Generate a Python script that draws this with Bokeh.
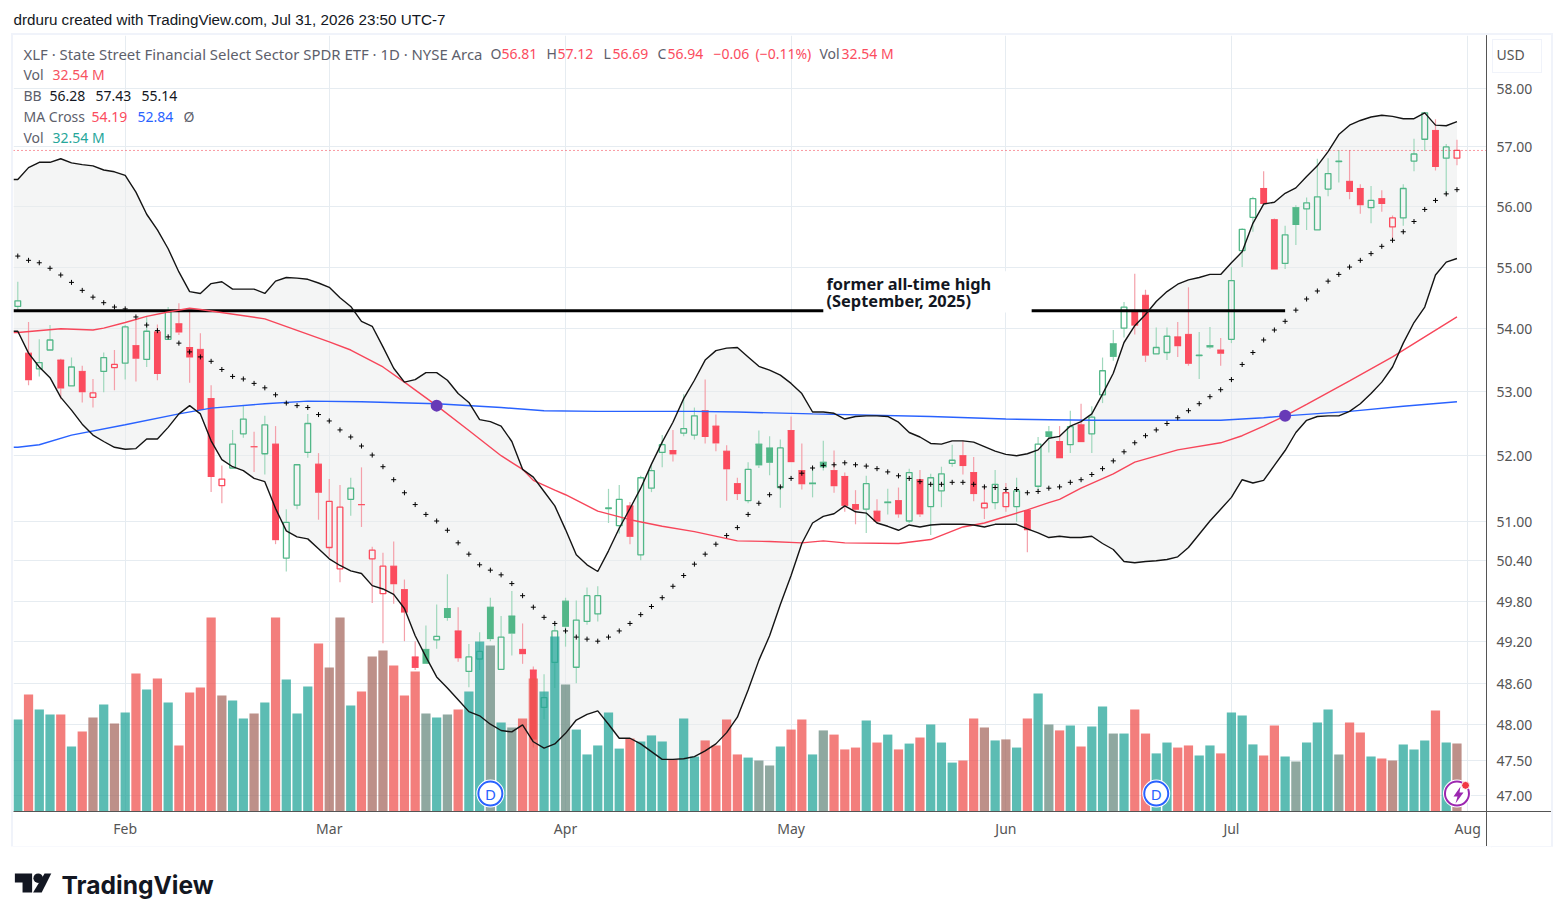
from bokeh.plotting import figure
from bokeh.embed import file_html
from bokeh.resources import INLINE
from bokeh.core.properties import value
from bokeh.layouts import column
from bokeh.models import (Range1d, LinearScale, FixedTicker, Label, PolyAnnotation)

opens = [54.36,53.61,53.36,53.66,53.50,53.09,53.32,52.91,53.32,53.38,
         53.45,53.73,53.51,53.95,53.83,54.08,53.70,53.67,52.89,51.54,
         51.81,52.34,52.14,52.03,52.18,50.44,51.24,52.05,51.87,50.60,
         50.28,51.33,51.25,50.43,49.91,50.32,49.97,48.98,49.09,49.23,
         49.69,49.36,48.77,48.95,49.71,48.80,49.58,49.09,48.79,48.25,
         48.90,49.80,48.83,49.50,49.61,51.19,50.93,51.23,50.49,51.50,
         52.05,52.08,52.35,52.32,52.70,52.46,52.07,51.57,51.31,52.18,
         52.12,51.51,52.39,51.77,51.58,51.90,51.77,51.68,51.25,51.18,
         51.15,51.29,51.31,51.00,51.63,51.22,51.46,51.88,52.00,51.74,
         51.20,51.28,51.22,51.22,51.16,51.53,52.37,52.22,52.17,52.48,
         52.34,52.95,53.76,54.01,54.29,54.54,53.60,53.62,53.87,53.91,
         53.57,53.73,53.66,53.83,55.27,55.82,56.30,55.78,55.06,55.98,
         55.96,55.61,56.29,56.75,56.42,56.30,55.98,56.13,55.66,55.81,
         56.76,57.13,57.28,56.81,56.81]
highs = [54.76,54.11,53.83,54.06,53.52,53.54,53.41,53.20,53.62,53.66,
         54.06,54.15,54.20,54.07,54.35,54.41,54.30,53.93,53.10,51.85,
         52.40,52.78,52.37,52.62,52.46,51.18,51.87,52.65,52.04,51.64,
         51.55,51.66,51.82,50.61,50.52,50.69,50.12,49.21,49.44,49.75,
         50.20,49.71,49.17,49.34,49.85,49.58,49.95,49.47,48.84,48.73,
         49.44,49.85,49.81,50.00,50.02,51.49,51.55,51.29,51.69,51.85,
         52.32,52.40,52.96,52.75,53.19,52.64,52.16,51.66,51.90,52.39,
         52.30,52.25,52.61,52.19,51.81,52.23,52.08,51.74,51.47,51.69,
         51.33,51.49,51.51,51.80,51.78,51.72,51.83,52.17,52.23,51.98,
         51.52,51.78,51.58,51.66,51.17,52.29,52.46,52.46,52.70,52.81,
         52.77,53.54,53.98,54.43,54.89,54.63,54.02,54.02,54.11,54.67,
         53.95,54.03,53.85,55.00,55.64,56.16,56.59,55.80,55.68,56.02,
         56.15,56.80,56.81,56.95,56.95,56.37,56.34,56.27,55.85,56.37,
         57.14,57.59,57.47,57.05,57.12]
lows = [54.29,53.10,53.24,53.66,52.88,53.09,52.83,52.75,52.99,53.02,
        53.19,53.16,53.39,53.18,53.83,53.90,53.14,52.71,51.44,51.27,
        51.81,52.28,51.75,51.71,50.65,50.24,51.18,51.97,51.02,50.46,
        50.08,51.08,50.91,49.77,49.18,49.76,49.21,48.79,48.88,49.10,
        49.51,48.91,48.54,48.79,49.21,48.80,49.00,48.88,47.68,48.08,
        48.53,49.13,48.60,49.45,49.50,50.97,50.81,50.65,50.41,51.44,
        51.82,51.91,52.30,52.25,52.19,52.07,51.31,51.32,51.27,51.81,
        51.70,51.20,51.90,51.48,51.36,51.77,51.43,51.14,50.95,50.82,
        50.97,51.10,51.05,50.97,51.06,50.79,51.21,51.83,51.71,51.30,
        51.03,51.18,51.14,50.99,50.53,51.47,52.05,51.96,52.04,52.21,
        52.04,52.82,53.49,53.86,53.91,53.47,53.60,53.50,53.55,53.41,
        53.20,53.68,53.41,53.77,55.00,55.58,56.04,54.96,54.97,55.36,
        55.61,55.61,56.17,56.40,56.12,55.88,55.72,55.91,55.45,55.68,
        56.59,56.93,56.60,56.20,56.69]
closes = [54.45,53.18,53.46,53.82,53.05,53.39,52.99,52.98,53.54,53.43,
          54.03,53.52,53.96,53.28,54.27,53.94,53.54,52.71,51.67,51.64,
          52.18,52.57,52.13,52.48,50.71,50.98,51.86,52.50,51.43,51.30,
          51.21,51.50,51.24,50.56,50.32,50.05,49.63,48.82,48.88,49.28,
          49.55,48.96,48.98,49.06,49.24,49.27,49.32,49.02,47.79,48.39,
          49.36,49.42,49.52,49.88,49.88,51.20,51.33,50.76,51.66,51.77,
          52.17,52.02,52.42,52.62,52.29,52.19,51.79,51.41,51.79,51.85,
          51.89,52.12,51.90,51.56,51.56,51.82,51.53,51.23,51.17,51.57,
          50.99,51.27,51.10,51.74,51.10,51.66,51.72,51.93,51.84,51.41,
          51.27,51.56,51.43,51.46,50.86,52.18,52.29,51.96,52.45,52.21,
          52.60,53.33,53.55,54.35,54.05,53.57,53.70,53.88,53.72,53.44,
          53.58,53.70,53.60,54.78,55.62,56.13,56.04,54.96,55.53,55.69,
          56.06,56.16,56.55,56.76,56.24,56.02,56.10,56.04,55.81,56.30,
          56.88,57.58,56.66,57.00,56.94]
candle_dirs = ("grggrgrrgr" "grgrgrrrrr" "ggrgrgggrr" "rgrrrrrrgg" "grgggggrrg"
               "gggggggrgg" "grggrrrrgg" "ggrrggrrrg" "rgrgrgggrr" "rgrgrggrgr"
               "ggggrrggrr" "ggrgggrrgg" "ggggrrgrrg" "ggrgr")
volumes = [44.0,56.0,48.8,46.4,46.4,31.1,38.3,45.0,51.2,42.1,
           47.4,66.0,58.4,63.6,52.2,31.6,56.9,59.3,92.8,55.5,
           53.1,44.5,46.9,52.2,92.8,63.2,46.9,59.8,80.4,68.9,
           92.8,50.7,57.4,74.2,77.0,69.9,55.5,67.0,46.9,45.0,
           46.4,48.8,57.4,81.3,79.4,42.6,40.2,44.5,63.6,57.4,
           83.7,60.8,39.2,27.3,31.6,47.4,30.1,34.9,33.5,36.4,
           33.5,24.9,44.5,26.3,34.0,31.6,44.0,27.3,25.8,24.4,
           22.0,31.1,39.2,44.0,27.3,38.8,36.8,29.7,30.6,43.5,
           33.0,36.8,29.7,32.5,35.4,41.6,33.0,23.4,24.4,44.5,
           40.2,34.0,34.5,30.6,44.5,56.5,41.6,38.8,41.2,31.1,
           40.7,50.2,37.3,37.3,48.8,37.3,27.8,33.0,30.6,31.6,
           26.8,31.6,27.8,47.4,45.9,32.1,26.8,41.2,26.3,23.9,
           33.0,42.6,48.8,27.3,42.6,37.8,26.3,25.4,24.4,32.1,
           29.7,34.0,48.3,33.0,32.54]
volume_kinds = ("TRTTRTRBTB" "TRTRTRRRRB" "TTBTRTTTRB" "BTRBBRRRGT" "GRTTGTGRRT"
                "TGTTTTTRTT" "TRTTRRRRTG" "GTRRTGRRRT" "RTRTRTTTRR" "BTBTRTGRTR"
                "TTGTRRTTRR" "TTRTTTRRTG" "TTTGRRTRBT" "TTRTB")
bb_basis = [55.18,55.11,55.07,54.98,54.87,54.75,54.62,54.51,54.42,54.35,
            54.32,54.19,54.06,53.97,53.87,53.77,53.63,53.55,53.48,53.35,
            53.24,53.20,53.13,53.06,52.95,52.82,52.78,52.75,52.64,52.54,
            52.40,52.29,52.15,52.01,51.83,51.63,51.43,51.25,51.10,51.00,
            50.86,50.67,50.50,50.34,50.26,50.19,50.06,49.88,49.71,49.56,
            49.47,49.36,49.27,49.24,49.21,49.27,49.36,49.47,49.60,49.72,
            49.85,50.02,50.18,50.35,50.50,50.65,50.78,50.90,51.10,51.27,
            51.40,51.52,51.65,51.73,51.81,51.85,51.86,51.89,51.86,51.84,
            51.80,51.75,51.69,51.65,51.60,51.56,51.56,51.59,51.59,51.56,
            51.52,51.51,51.48,51.48,51.43,51.45,51.50,51.52,51.59,51.63,
            51.71,51.80,51.92,52.06,52.20,52.31,52.40,52.50,52.59,52.70,
            52.81,52.92,53.03,53.19,53.43,53.62,53.82,53.98,54.12,54.30,
            54.48,54.61,54.77,54.88,55.00,55.11,55.22,55.34,55.44,55.58,
            55.75,55.95,56.10,56.21,56.28]
bb_upper = [56.45,56.65,56.74,56.74,56.80,56.73,56.70,56.68,56.61,56.58,
            56.52,56.24,55.87,55.61,55.30,54.92,54.60,54.57,54.73,54.76,
            54.64,54.64,54.64,54.57,54.77,54.83,54.82,54.80,54.74,54.67,
            54.50,54.36,54.12,54.04,53.71,53.37,53.15,53.19,53.30,53.30,
            53.18,52.97,52.83,52.56,52.53,52.46,52.22,51.79,51.67,51.45,
            51.23,50.87,50.49,50.34,50.24,50.55,50.89,51.19,51.50,51.87,
            52.21,52.52,52.89,53.18,53.50,53.65,53.69,53.70,53.55,53.40,
            53.34,53.26,53.13,52.97,52.68,52.68,52.66,52.57,52.61,52.62,
            52.62,52.61,52.52,52.36,52.29,52.19,52.18,52.23,52.23,52.21,
            52.14,52.07,52.02,52.00,52.03,52.09,52.27,52.30,52.46,52.53,
            52.65,52.96,53.29,53.78,54.05,54.23,54.44,54.60,54.72,54.79,
            54.83,54.88,54.88,55.07,55.25,55.72,56.04,56.07,56.22,56.31,
            56.50,56.68,56.92,57.21,57.37,57.45,57.51,57.54,57.52,57.48,
            57.48,57.58,57.37,57.36,57.43]
bb_lower = [53.96,53.61,53.39,53.22,52.91,52.71,52.49,52.32,52.22,52.13,
            52.10,52.11,52.26,52.26,52.44,52.65,52.78,52.65,52.23,51.94,
            51.83,51.77,51.65,51.60,51.19,50.85,50.76,50.73,50.58,50.43,
            50.33,50.25,50.21,50.03,49.98,49.90,49.69,49.29,48.98,48.69,
            48.53,48.36,48.19,48.13,48.01,47.92,47.90,48.00,47.76,47.67,
            47.73,47.88,48.07,48.15,48.20,48.01,47.81,47.81,47.73,47.62,
            47.51,47.51,47.52,47.55,47.63,47.73,47.89,48.11,48.50,48.93,
            49.29,49.75,50.18,50.66,50.97,51.07,51.11,51.23,51.14,51.12,
            50.97,50.92,50.86,50.94,50.91,50.94,50.95,50.95,50.95,50.94,
            50.91,50.95,50.95,50.95,50.88,50.82,50.75,50.77,50.75,50.75,
            50.77,50.66,50.57,50.39,50.37,50.39,50.40,50.42,50.46,50.60,
            50.80,51.00,51.18,51.36,51.63,51.58,51.62,51.85,52.08,52.36,
            52.55,52.61,52.62,52.62,52.69,52.81,52.97,53.15,53.39,53.77,
            54.10,54.35,54.87,55.08,55.14]
ma50_idx = [0,4,7,8,10,12,14,16,17,23,29,31,34,36,39,42,45,47,48,50,51,54,57,60,63,67,70,73,75,77,82,85,88,90,94,96,97,99,102,104,108,112,114,116,118,120,124,128,134]
ma50_val = [53.94,54.00,53.98,54.01,54.10,54.20,54.27,54.33,54.31,54.16,53.79,53.66,53.39,53.15,52.78,52.39,52.00,51.79,51.62,51.47,51.40,51.15,51.02,50.92,50.84,50.70,50.69,50.67,50.70,50.67,50.66,50.72,50.91,50.97,51.17,51.28,51.33,51.50,51.72,51.90,52.09,52.20,52.31,52.46,52.62,52.80,53.17,53.55,54.19]
ma200_idx = [0,2,5,10,15,18,23,27,32,39,45,49,54,63,67,74,85,92,96,100,112,116,118,124,129,134]
ma200_val = [52.13,52.17,52.32,52.48,52.65,52.74,52.81,52.85,52.84,52.81,52.75,52.70,52.69,52.69,52.68,52.65,52.61,52.57,52.56,52.55,52.55,52.59,52.62,52.69,52.77,52.84]
cross_idx = [39, 118]
cross_val = [52.78, 52.62]
dividend_idx = [44, 106]
former_high = 54.29
last_close = 56.94
month_idx = [10, 29, 51, 72, 92, 113, 135]
month_names = ["Feb", "Mar", "Apr", "May", "Jun", "Jul", "Aug"]
price_ticks = [47, 47.5, 48, 48.6, 49.2, 49.8, 50.4, 51, 52, 53, 54, 55, 56, 57, 58]

n = len(closes)
idx = list(range(n))

RED, GREEN = "#fb4c5e", "#52b788"
WICK_R, WICK_G = "#f4a0aa", "#a0d8bd"
GRID = "#e6ecf1"
GREY = "#5d606b"
INK = "#131722"
VOLC = {"T": "#26a69a", "R": "#ef5350", "B": "#a76b61", "G": "#6a8b80"}

X0 = -0.4
X1 = 136.75
USD_TICK = 58.59
OX, OY = 13, 35   # where the main figure starts on the page

header = figure(width=1556, height=35, output_backend="svg", toolbar_location=None, x_range=Range1d(0, 1556),
                y_range=Range1d(35, 0), x_axis_location=None, y_axis_location=None, min_border=0)
header.outline_line_color = None
header.grid.visible = False
header.add_layout(Label(x=13, y=19, x_units="canvas", y_units="canvas", text_baseline="middle",
                        text="drduru created with TradingView.com, Jul 31, 2026 23:50 UTC-7",
                        text_color=INK, text_font="Liberation Sans", text_font_size="15.2px"))

p = figure(width=1538, height=811, output_backend="svg", toolbar_location=None,
           x_range=Range1d(X0, X1), y_range=Range1d(46.78, 58.92), y_axis_type="log",
           y_axis_location="right", min_border_left=0, min_border_top=0,
           min_border_right=65, min_border_bottom=35, margin=(0, 0, 0, OX))
p.outline_line_color = None
p.border_fill_color = None
p.background_fill_color = "white"
# chrome that lies outside the plot frame: axis rules and the USD box, painted behind the canvas
rules = [("1px 811px", "1473px 0", "#555555"), ("65px 1px", "1473px 776px", "#555555"),
         ("50px 1px", "1479px 4px", "#f0f3fa"), ("50px 1px", "1479px 37px", "#f0f3fa"),
         ("1px 33px", "1479px 4px", "#f0f3fa"), ("1px 33px", "1528px 4px", "#f0f3fa")]
p.styles = {"outline": "2px solid #f0f3fa",
            "background-color": "white",
            "background-image": ",".join(f"linear-gradient({c},{c})" for _, _, c in rules),
            "background-size": ",".join(s for s, _, _ in rules),
            "background-position": ",".join(q for _, q, _ in rules),
            "background-repeat": "no-repeat"}
p.extra_y_ranges = {"vol": Range1d(0, 371.3)}
p.extra_y_scales = {"vol": LinearScale()}

ax = p.yaxis[0]
ax.ticker = FixedTicker(ticks=price_ticks + [USD_TICK])
ax.major_label_overrides = {**{t: f"{t:.2f}" for t in price_ticks}, USD_TICK: "USD"}
ax.major_tick_line_color = None
ax.major_tick_out = 0
ax.minor_tick_line_color = None
ax.major_label_standoff = 10
ax.major_label_text_font = "Noto Sans"
ax.major_label_text_font_size = "14px"
ax.major_label_text_color = "#555555"
ax.axis_line_color = "#555555"

bx = p.xaxis[0]
bx.ticker = FixedTicker(ticks=month_idx)
bx.major_label_overrides = dict(zip(month_idx, month_names))
bx.major_tick_line_color = None
bx.major_tick_out = 0
bx.minor_tick_line_color = None
bx.major_label_standoff = 7
bx.major_label_text_font = "Noto Sans"
bx.major_label_text_font_size = "14px"
bx.major_label_text_color = "#555555"
bx.axis_line_color = "#555555"

p.xgrid.ticker = FixedTicker(ticks=month_idx)
p.ygrid.ticker = FixedTicker(ticks=price_ticks)
for g in (p.xgrid[0], p.ygrid[0]):
    g.grid_line_color = GRID
    g.grid_line_width = 1

# the bands and averages run on past the left edge of the view
line_x = [X0] + idx

# Bollinger fill
p.varea(x=line_x, y1=bb_lower[:1] + bb_lower, y2=bb_upper[:1] + bb_upper, fill_color="#e9eceb", fill_alpha=0.5)

# candles
cdir = [candle_dirs[i] for i in idx]
top = [max(opens[i], closes[i]) for i in idx]
bot = [min(opens[i], closes[i]) for i in idx]
p.segment(x0=idx, x1=idx, y0=highs, y1=top,
          line_color=[WICK_G if d == "g" else WICK_R for d in cdir], line_width=1.2)
p.segment(x0=idx, x1=idx, y0=bot, y1=lows,
          line_color=[WICK_G if d == "g" else WICK_R for d in cdir], line_width=1.2)
hollow = [i for i in idx if closes[i] > opens[i]]
solid = [i for i in idx if closes[i] <= opens[i]]
p.vbar(x=hollow, width=0.53, top=[top[i] for i in hollow], bottom=[bot[i] for i in hollow],
       fill_color=None, line_color=[GREEN if cdir[i] == "g" else RED for i in hollow], line_width=1.3)
p.vbar(x=solid, width=0.64, top=[top[i] for i in solid], bottom=[bot[i] for i in solid],
       fill_color=[GREEN if cdir[i] == "g" else RED for i in solid], line_color=None)
p.segment(x0=[i - 0.32 for i in solid], x1=[i + 0.32 for i in solid], y0=[top[i] for i in solid],
          y1=[top[i] for i in solid], line_color=[GREEN if cdir[i] == "g" else RED for i in solid],
          line_width=1)

# volume
p.vbar(x=idx, width=0.86, top=volumes, bottom=0, y_range_name="vol",
       fill_color=[VOLC[k] for k in volume_kinds], fill_alpha=0.75, line_color=None)

# price line
p.line([X0, X1], [last_close, last_close], line_color="#f23645", line_width=1, line_dash="1 3")

# annotation backdrop + former high line
p.quad(left=[75], right=[94.4], top=[54.93], bottom=[54.26], fill_color="white", line_color=None)
p.line([X0, 75], [former_high, former_high], line_color="black", line_width=3)
p.line([94.4, 118], [former_high, former_high], line_color="black", line_width=3)

# moving averages, bands
p.line([X0] + ma200_idx, ma200_val[:1] + ma200_val, line_color="#2962ff", line_width=1.4)
p.line([X0] + ma50_idx, ma50_val[:1] + ma50_val, line_color="#f7465a", line_width=1.4)
p.line(line_x, bb_upper[:1] + bb_upper, line_color="#141414", line_width=1.4)
p.line(line_x, bb_lower[:1] + bb_lower, line_color="#141414", line_width=1.4)
p.scatter(idx, bb_basis, marker="cross", size=5, line_color="black", line_width=1)
p.scatter(cross_idx, cross_val, marker="circle", size=12, fill_color="#673ab7", line_color=None)

# event badges
bY = 47.03
p.scatter(dividend_idx, [bY] * 2, marker="circle", size=28, fill_color="white", line_color=None)
p.scatter(dividend_idx, [bY] * 2, marker="circle", size=24, fill_color="white", line_color="#2962ff", line_width=2)
p.text(dividend_idx, [bY] * 2, text=["D", "D"], text_color="#2962ff", text_align="center", text_baseline="middle",
       text_font=value("Noto Sans"), text_font_size="15px")
p.scatter([134], [bY], marker="circle", size=28, fill_color="white", line_color=None)
p.scatter([134], [bY], marker="circle", size=24, fill_color="white", line_color="#9c27b0", line_width=2)
p.scatter([134.8], [47.145], marker="circle", size=8, fill_color="#f23645", line_color="white", line_width=1)


def label(x, y, s, color=GREY, size="14px", font="Noto Sans", align="left", style="normal"):
    p.add_layout(Label(x=x - OX, y=y - OY, x_units="canvas", y_units="canvas", text=s, text_color=color,
                       text_font_size=size, text_font=font, text_align=align, text_baseline="middle",
                       text_font_style=style, level="overlay"))


label(23, 53, "XLF · State Street Financial Select Sector SPDR ETF · 1D · NYSE Arca", size="14.9px")
for x, s, c in [(490, "O", GREY), (501, "56.81", RED), (546, "H", GREY), (557, "57.12", RED),
                (603, "L", GREY), (612, "56.69", RED), (657, "C", GREY), (667, "56.94", RED),
                (713, "−0.06", RED), (755, "(−0.11%)", RED), (819, "Vol", GREY), (841, "32.54 M", RED)]:
    label(x, 53, s, c)
label(23, 74, "Vol")
label(52, 74, "32.54 M", "#f7525f")
label(23, 95, "BB")
for x, s in [(49, "56.28"), (95, "57.43"), (141, "55.14")]:
    label(x, 95, s, INK)
label(23, 116, "MA Cross")
label(91, 116, "54.19", RED)
label(137, 116, "52.84", "#2962ff")
label(183, 116, "Ø")
label(23, 137, "Vol")
label(52, 137, "32.54 M", "#26a69a")

label(826, 283, "former all-time high", INK, "16.4px", style="bold")
label(826, 300, "(September, 2025)", INK, "16.4px", style="bold")

# bolt in earnings badge
bolt = [(1460, 786), (1453, 796), (1457, 796), (1455, 803), (1463, 792), (1459, 792)]
p.add_layout(PolyAnnotation(xs=[a - OX for a, _ in bolt], ys=[b - OY for _, b in bolt], xs_units="canvas",
                            ys_units="canvas", fill_color="#9c27b0", fill_alpha=1, line_color=None, level="overlay"))

# footer with the TradingView mark (positions measured from the top of this strip)
footer = figure(width=1556, height=67, output_backend="svg", toolbar_location=None, x_range=Range1d(0, 1556),
                y_range=Range1d(67, 0), x_axis_location=None, y_axis_location=None, min_border=0)
footer.outline_line_color = None
footer.grid.visible = False
footer.patches(xs=[[15, 33, 33, 23, 23, 15], [46, 53, 43, 34]],
               ys=[[27, 27, 46, 46, 36, 36], [27, 27, 46, 46]], fill_color=INK, line_color=None)
footer.scatter([39.3], [31.7], marker="circle", size=9.5, fill_color=INK, line_color=None)
footer.add_layout(Label(x=61, y=38, x_units="canvas", y_units="canvas", text="TradingView", text_color=INK,
                        text_font="Inter", text_font_size="24.6px", text_font_style="bold", text_baseline="middle"))

page = column(header, p, footer, spacing=0)
open("out.html", "w").write(file_html(page, INLINE))
